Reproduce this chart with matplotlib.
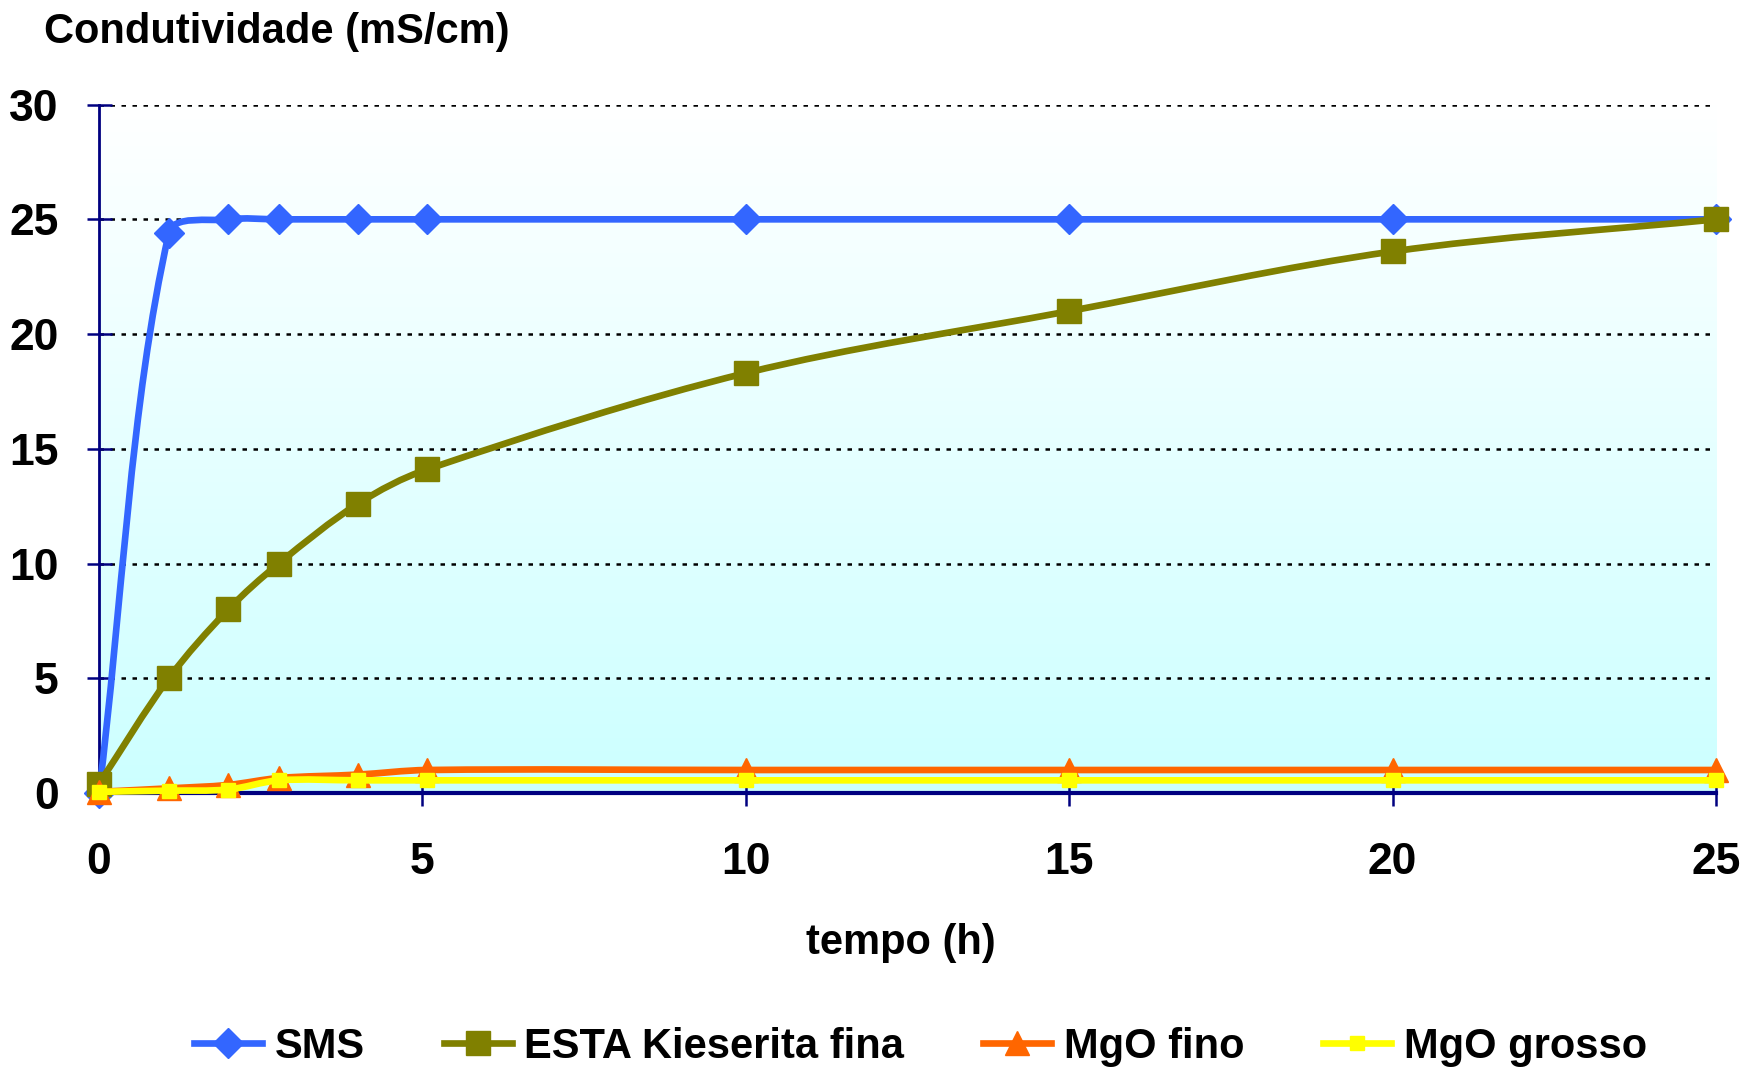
import numpy as np
import matplotlib
matplotlib.use("Agg")
from matplotlib import pyplot as plt
from matplotlib.path import Path
from matplotlib.patches import PathPatch
from matplotlib.colors import LinearSegmentedColormap

# tempo de dissolução (h) e condutividade (mS/cm)
tempo = [0, 1.08, 2.0, 2.78, 4.0, 5.07, 10, 15, 20, 25]
sms = [0.0, 24.4, 25.0, 25.0, 25.0, 25.0, 25.0, 25.0, 25.0, 25.0]
esta_fina = [0.4, 5.0, 8.0, 10.0, 12.6, 14.1, 18.3, 21.0, 23.6, 25.0]
mgo_fino = [0.05, 0.2, 0.35, 0.65, 0.8, 1.0, 1.0, 1.0, 1.0, 1.0]
mgo_grosso = [0.05, 0.1, 0.15, 0.55, 0.55, 0.55, 0.55, 0.55, 0.55, 0.55]

labels = ["SMS", "ESTA Kieserita fina", "MgO fino", "MgO grosso"]
x_ticks = [0, 5, 10, 15, 20, 25]
y_ticks = [0, 5, 10, 15, 20, 25, 30]

plt.rcParams['font.family'] = ['Liberation Sans', 'DejaVu Sans']
plt.rcParams['font.weight'] = 'bold'

navy = '#000080'

fig = plt.figure(figsize=(17.6, 10.73), dpi=100)
ax = fig.add_axes([0.05625, 0.261, 0.9188, 0.6415])

# gradient fill of the plot area
grad = np.linspace(0, 1, 256).reshape(-1, 1)
cmap = LinearSegmentedColormap.from_list('fundo', ['#CCFFFF', '#FFFFFF'])
ax.imshow(grad, extent=(0, 25, 0, 30), origin='lower', aspect='auto',
          cmap=cmap, zorder=0)
ax.set_xlim(0, 25)
ax.set_ylim(0, 30)


def smooth_path(xs, ys):
    # smoothed line: cubic bezier pieces, tangents weighted by screen distance
    pts = ax.transData.transform(np.column_stack([xs, ys]))
    n = len(pts)
    d = np.hypot(*np.diff(pts, axis=0).T)
    verts = [pts[0]]
    codes = [Path.MOVETO]
    for i in range(n - 1):
        p0 = pts[max(i - 1, 0)]
        p1 = pts[i]
        p2 = pts[i + 1]
        p3 = pts[min(i + 2, n - 1)]
        dp = d[i - 1] if i > 0 else 0
        dn = d[i + 1] if i < n - 2 else 0
        c1 = p1 + (p2 - p0) * d[i] / (3 * (dp + d[i]))
        c2 = p2 - (p3 - p1) * d[i] / (3 * (d[i] + dn))
        verts += [c1, c2, p2]
        codes += [Path.CURVE4] * 3
    verts = ax.transData.inverted().transform(np.array(verts))
    return Path(verts, codes)


series = [
    (sms, '#3366FF', 'D', 15),
    (esta_fina, '#808000', 's', 17),
    (mgo_fino, '#FF6600', '^', 17),
    (mgo_grosso, '#FFFF00', 's', 10),
]

handles = []
for k, (vals, color, mk, ms) in enumerate(series):
    z = 3 + k
    ax.add_patch(PathPatch(smooth_path(tempo, vals), fc='none', ec=color, lw=4.8,
                           capstyle='round', joinstyle='round', zorder=z,
                           clip_on=False))
    ax.plot(tempo, vals, ls='none', marker=mk, ms=ms, color=color, mec=color,
            zorder=z + 0.5, clip_on=False)
    h, = ax.plot([], [], color=color, lw=4.8, marker=mk, ms=ms, mec=color)
    handles.append(h)

ax.set_xticks(x_ticks)
ax.set_yticks(y_ticks)
ax.tick_params(axis='both', direction='inout', length=18, width=1.8,
               color=navy, labelsize=32)
ax.tick_params(axis='y', pad=20)
ax.tick_params(axis='x', pad=26)

ax.set_axisbelow(True)
ax.yaxis.grid(True, color='black', lw=1.8, ls=(0, (1.8, 2.6)))

for s in ['top', 'right']:
    ax.spines[s].set_visible(False)
ax.spines['left'].set_color(navy)
ax.spines['left'].set_linewidth(2)
ax.spines['bottom'].set_color(navy)
ax.spines['bottom'].set_linewidth(3)

fig.text(44 / 1760, 1 - 43 / 1073, 'Condutividade (mS/cm)', fontsize=30,
         fontweight='bold', va='baseline', ha='left')
fig.text(0.512, 0.111, 'tempo (h)', fontsize=30, fontweight='bold',
         va='baseline', ha='center')

fig.legend(handles, labels, loc='center', bbox_to_anchor=(0.523, 0.0242),
           ncol=4, frameon=False, fontsize=30, handlelength=1.63,
           handletextpad=0.3, columnspacing=1.9)

fig.savefig('out.png', dpi=100)
